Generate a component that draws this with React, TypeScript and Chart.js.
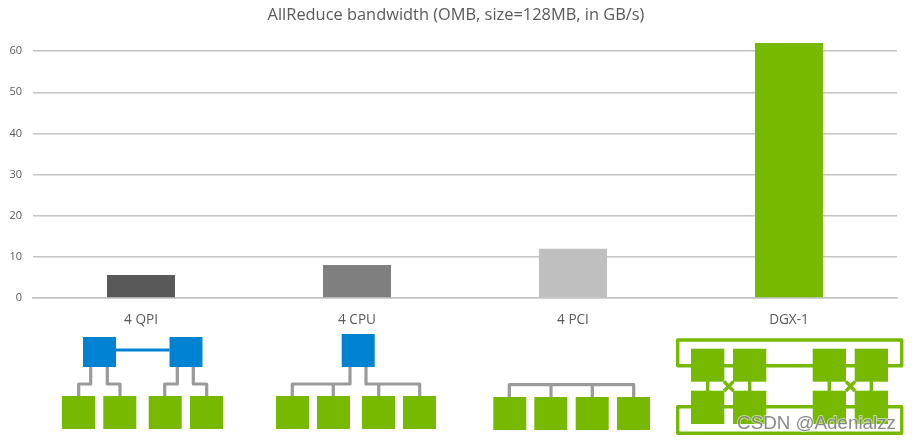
import { useEffect, useRef } from 'react'
import Chart from 'chart.js/auto'

const CATEGORIES = ['4 QPI', '4 CPU', '4 PCI', 'DGX-1']
const BANDWIDTH = [5.6, 8, 12, 62]
const BAR_COLORS = ['#595959', '#7f7f7f', '#bfbfbf', '#76b900']
const TITLE = 'AllReduce bandwidth (OMB, size=128MB, in GB/s)'
const WATERMARK = 'CSDN @Adenialzz'

const FONT = '"Open Sans", sans-serif'
const TEXT = '#595959'
const GRID = '#c4c4c4'
const GREEN = '#76b900'
const BLUE = '#0082d2'
const WIRE = '#9a9a9a'

// 아래 토폴로지 그림 (x, y, w, h)
const BLUE_BOXES = [
  [83, 337, 33, 30],
  [169.5, 337, 33, 30],
  [341.7, 334, 33, 33],
]
const GREEN_BOXES = [
  [62, 396, 33, 33], [103.3, 396, 33, 33], [148.7, 396, 33, 33], [190, 396, 33, 33],
  [276, 396, 33, 33], [317, 396, 33, 33], [362, 396, 33, 33], [403, 396, 33, 33],
  [493.3, 397, 33, 33], [534.3, 397, 33, 33], [575.7, 397, 33, 33], [617, 397, 33, 33],
  [691, 348.7, 33.3, 33], [733, 348.7, 33.3, 33], [812.7, 348.7, 33.3, 33], [854.7, 348.7, 33.3, 33],
  [691, 390.7, 33.3, 33.3], [733, 390.7, 33.3, 33.3], [812.7, 390.7, 33.3, 33.3], [854.7, 390.7, 33.3, 33.3],
]
// 꺾은선 연결 [x0, y0, x1, y1, ...]
const BLUE_LINKS = [[116, 350, 169.5, 350]]
const GRAY_WIRES = [
  [90.7, 367, 90.7, 384, 78.7, 384, 78.7, 396],
  [107.3, 367, 107.3, 384, 120, 384, 120, 396],
  [177.3, 367, 177.3, 384, 164.7, 384, 164.7, 396],
  [193.3, 367, 193.3, 384, 206.7, 384, 206.7, 396],
  [350, 367, 350, 384, 292.3, 384, 292.3, 396],
  [333.3, 384, 333.3, 396],
  [366, 367, 366, 384, 419.7, 384, 419.7, 396],
  [378.7, 384, 378.7, 396],
  [509.3, 397, 509.3, 384.7, 633.7, 384.7, 633.7, 397],
  [551, 384.7, 551, 397],
  [592.3, 384.7, 592.3, 397],
]
const GREEN_WIRES = [
  [677.7, 340, 901.7, 340, 901.7, 365.7, 677.7, 365.7, 677.7, 340, 901.7, 340],
  [677.7, 406.7, 901.7, 406.7, 901.7, 433.3, 677.7, 433.3, 677.7, 406.7, 901.7, 406.7],
  [707.7, 381, 707.7, 391],
  [749.7, 381, 749.7, 391],
  [829.3, 381, 829.3, 391],
  [871.3, 381, 871.3, 391],
  [724, 381.5, 733.5, 391],
  [733.5, 381.5, 724, 391],
  [846, 381.5, 855, 391],
  [855, 381.5, 846, 391],
]

function strokeWires(ctx: CanvasRenderingContext2D, wires: number[][], color: string, width: number) {
  ctx.strokeStyle = color
  ctx.lineWidth = width
  ctx.lineJoin = 'round'
  for (const w of wires) {
    ctx.beginPath()
    ctx.moveTo(w[0], w[1])
    for (let i = 2; i < w.length; i += 2) ctx.lineTo(w[i], w[i + 1])
    ctx.stroke()
  }
}

function fillBoxes(ctx: CanvasRenderingContext2D, boxes: number[][], color: string) {
  ctx.fillStyle = color
  for (const [x, y, w, h] of boxes) ctx.fillRect(x, y, w, h)
}

// 차트 아래의 연결 구조 그림과 워터마크
const topologyPlugin = {
  id: 'topology',
  afterDraw(chart: Chart) {
    const ctx = chart.ctx
    ctx.save()
    strokeWires(ctx, GRAY_WIRES, WIRE, 3.2)
    strokeWires(ctx, BLUE_LINKS, BLUE, 3)
    strokeWires(ctx, GREEN_WIRES, GREEN, 3.4)
    fillBoxes(ctx, BLUE_BOXES, BLUE)
    fillBoxes(ctx, GREEN_BOXES, GREEN)
    ctx.font = '18.8px "Liberation Sans", sans-serif'
    ctx.textAlign = 'right'
    ctx.textBaseline = 'alphabetic'
    ctx.lineWidth = 2
    ctx.strokeStyle = 'rgba(255,255,255,0.55)'
    ctx.strokeText(WATERMARK, 896, 429)
    ctx.fillStyle = 'rgba(125,125,125,0.9)'
    ctx.fillText(WATERMARK, 896, 429)
    ctx.restore()
  },
}

const titlePlugin = {
  id: 'chartTitle',
  afterDraw(c: Chart) {
    const ctx = c.ctx
    ctx.save()
    ctx.font = `16.4px ${FONT}`
    ctx.fillStyle = TEXT
    ctx.textAlign = 'center'
    ctx.textBaseline = 'middle'
    ctx.fillText(TITLE, 456, 15)
    ctx.restore()
  },
}

export default function App() {
  const canvasRef = useRef<HTMLCanvasElement>(null)

  useEffect(() => {
    const canvas = canvasRef.current
    if (!canvas) return
    const chart = new Chart(canvas, {
      type: 'bar',
      data: {
        labels: CATEGORIES,
        datasets: [
          {
            data: BANDWIDTH,
            backgroundColor: BAR_COLORS,
            borderWidth: 0,
            barPercentage: 1,
            categoryPercentage: 0.315,
          },
        ],
      },
      options: {
        responsive: false,
        animation: false,
        devicePixelRatio: 1,
        layout: { padding: { left: 0, right: 15, top: 43, bottom: 0 } },
        plugins: {
          legend: { display: false },
          tooltip: { enabled: false },
          title: { display: false },
        },
        scales: {
          x: {
            afterFit: (scale: any) => {
              scale.height = 142
            },
            grid: { display: false, drawTicks: false },
            border: { color: GRID, width: 1.5 },
            ticks: { color: TEXT, font: { family: FONT, size: 13.6 }, padding: 14, maxRotation: 0 },
          },
          y: {
            min: 0,
            max: 62,
            afterFit: (scale: any) => {
              scale.width = 33
            },
            grid: { color: GRID, lineWidth: 1.5, drawTicks: false },
            border: { display: false },
            ticks: { stepSize: 10, includeBounds: false, color: TEXT, font: { family: FONT, size: 11 }, padding: 11 },
          },
        },
      },
      plugins: [topologyPlugin, titlePlugin],
    } as any)
    return () => chart.destroy()
  }, [])

  return (
    <div style={{ position: 'absolute', left: 0, top: 0, width: 912, height: 440, background: '#fff' }}>
      <canvas ref={canvasRef} width={912} height={440} style={{ display: 'block' }} />
    </div>
  )
}
